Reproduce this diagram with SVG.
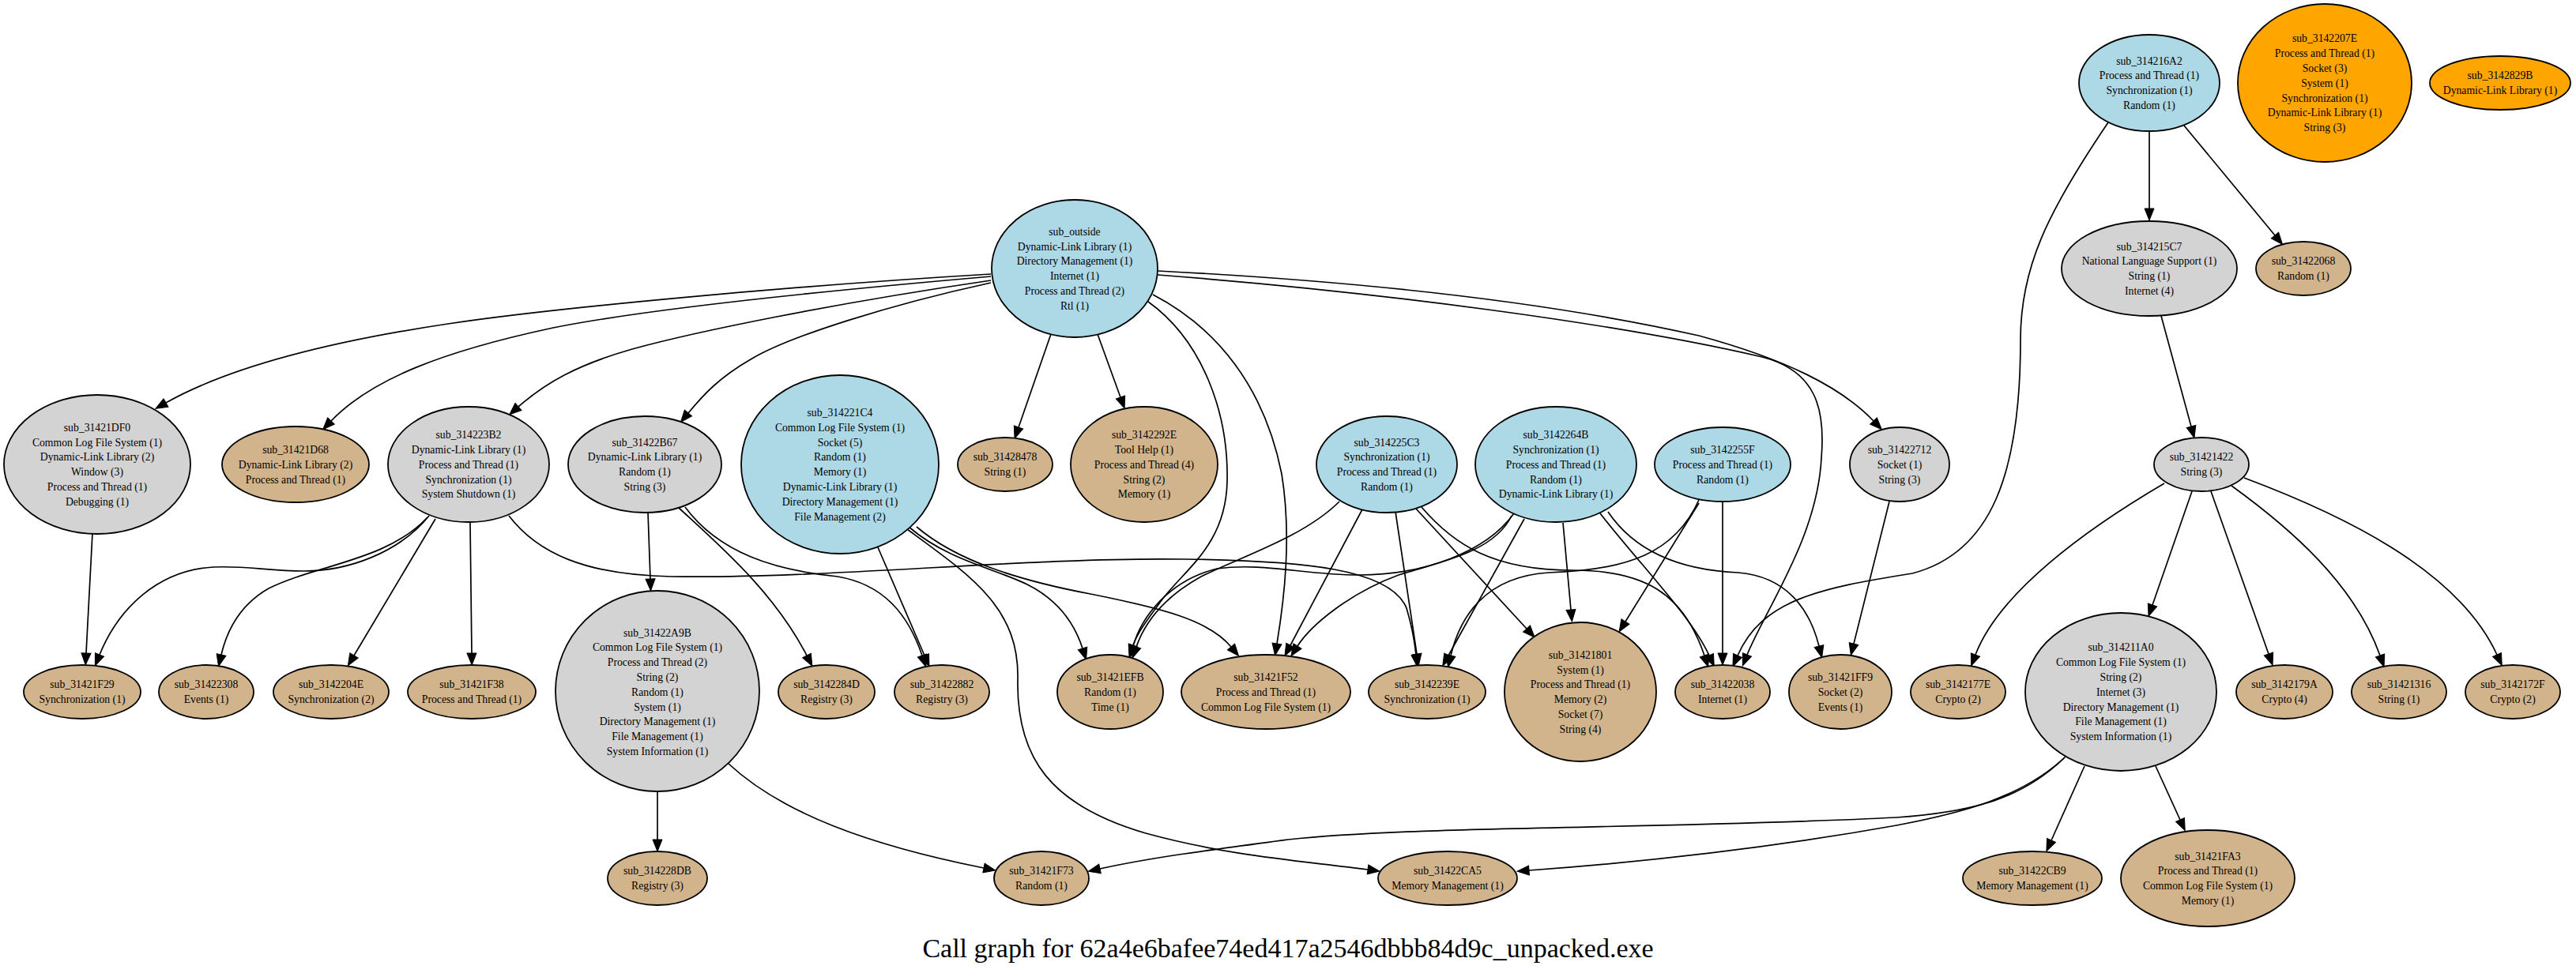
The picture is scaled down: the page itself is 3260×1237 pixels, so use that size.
<svg xmlns="http://www.w3.org/2000/svg" width="3260" height="1237" viewBox="0 0 3260 1237">
<style>
.n ellipse{stroke:#000;stroke-width:1.8}
.b{fill:#add8e6}.g{fill:#d3d3d3}.t{fill:#d2b48c}.o{fill:#ffa500}
text{font-family:"Liberation Serif","Times New Roman",serif;font-size:13.7px;text-anchor:middle;fill:#000}
#edges path{fill:none;stroke:#000;stroke-width:1.7;marker-end:url(#ah)}
.title{font-size:34px}
</style>
<defs>
<marker id="ah" markerUnits="userSpaceOnUse" markerWidth="17" markerHeight="14" viewBox="0 0 17 14" refX="0.5" refY="7" orient="auto" overflow="visible"><path d="M0.5,1 L15.5,7 L0.5,13 z" fill="#000" stroke="#000" stroke-width="1"/></marker>
</defs>
<rect width="3260" height="1237" fill="#fff"/>
<g id="edges">
<path d="M1330,423 L1289,541"/>
<path d="M1389,423 L1418,503"/>
<path d="M1254,347 C1000,362 700,390 567,410 C420,432 290,465 210,510"/>
<path d="M1254,350 C1000,372 800,395 700,415 C560,445 470,480 419,533"/>
<path d="M1254,355 C1050,385 880,420 800,442 C730,462 690,485 656,515"/>
<path d="M1254,358 C1130,385 1000,425 950,455 C910,478 890,500 871,523"/>
<path d="M1453,382 C1520,430 1555,520 1553,610 C1551,690 1500,720 1470,760 C1452,785 1440,800 1434,817"/>
<path d="M1459,373 C1540,415 1600,490 1622,600 C1635,680 1625,760 1616,815"/>
<path d="M1465,343 C1700,355 1950,380 2150,425 C2260,455 2330,490 2371,533"/>
<path d="M1465,348 C1750,370 2050,410 2230,452 C2300,470 2310,520 2305,580 C2300,680 2235,770 2211,829"/>
<path d="M2668,155 C2590,270 2557,340 2557,430 C2557,600 2520,700 2420,726 C2300,745 2230,760 2199,830"/>
<path d="M2720,166 L2720,264"/>
<path d="M2764,159 L2879,298"/>
<path d="M2735,400 L2773,540"/>
<path d="M2739,612 C2640,670 2530,750 2500,829"/>
<path d="M2774,622 L2724,766"/>
<path d="M2798,622 L2871,828"/>
<path d="M2824,615 C2900,670 2980,740 3012,830"/>
<path d="M2840,605 C2960,650 3110,720 3160,829"/>
<path d="M117,675 L109,827"/>
<path d="M543,653 C505,700 440,723 385,723 C340,723 310,716 270,718 C200,722 150,770 126,829"/>
<path d="M541,655 C490,710 400,715 340,745 C305,765 288,795 280,829"/>
<path d="M551,657 L448,830"/>
<path d="M595,662 L597,827"/>
<path d="M644,653 C680,700 740,728 850,730 C1050,733 1300,705 1500,708 C1650,710 1760,720 1780,770 C1786,790 1790,810 1792,829"/>
<path d="M820,649 L823,733"/>
<path d="M859,643 C910,690 980,750 1021,830"/>
<path d="M867,642 C910,700 980,722 1060,730 C1120,740 1150,780 1167,830"/>
<path d="M1111,693 L1170,830"/>
<path d="M1150,667 C1200,710 1260,720 1300,740 C1340,760 1360,790 1370,821"/>
<path d="M1148,670 C1230,730 1290,770 1288,860 C1286,960 1330,1020 1450,1055 C1560,1085 1650,1090 1731,1101"/>
<path d="M1160,667 C1210,710 1290,735 1380,752 C1470,770 1530,785 1558,819"/>
<path d="M832,1002 L832,1063"/>
<path d="M922,967 C990,1030 1100,1070 1245,1099"/>
<path d="M1766,648 L1793,828"/>
<path d="M1791,643 L1932,796"/>
<path d="M1695,635 C1650,680 1570,705 1520,730 C1475,755 1450,785 1438,819"/>
<path d="M1724,645 L1633,817"/>
<path d="M1799,642 C1840,690 1890,722 1990,722 C2080,722 2130,750 2157,830"/>
<path d="M1916,650 C1880,700 1800,728 1720,728 C1650,728 1600,712 1540,720 C1480,735 1445,780 1434,818"/>
<path d="M1913,653 C1890,700 1820,712 1770,728 C1710,750 1660,790 1642,818"/>
<path d="M1978,662 L1988,772"/>
<path d="M1929,657 L1833,830"/>
<path d="M2025,650 C2080,720 2140,780 2163,830"/>
<path d="M2035,648 C2070,700 2130,722 2200,725 C2260,730 2290,770 2302,818"/>
<path d="M2150,637 L2057,787"/>
<path d="M2180,635 L2180,827"/>
<path d="M2150,633 C2120,700 2060,722 1960,725 C1880,730 1848,780 1836,830"/>
<path d="M2391,635 L2346,815"/>
<path d="M2612,960 C2560,1010 2500,1028 2400,1035 C2100,1050 1800,1045 1630,1063 C1540,1075 1460,1085 1392,1100"/>
<path d="M2615,957 C2560,1010 2480,1030 2400,1045 C2250,1072 2100,1090 1935,1102"/>
<path d="M2638,970 L2596,1064"/>
<path d="M2728,970 L2759,1038"/>
</g>
<g id="sub_outside" class="n"><ellipse class="b" cx="1360" cy="340" rx="105" ry="87"/><text><tspan x="1360" y="297.7">sub_outside</tspan><tspan x="1360" y="316.5">Dynamic-Link Library (1)</tspan><tspan x="1360" y="335.3">Directory Management (1)</tspan><tspan x="1360" y="354.1">Internet (1)</tspan><tspan x="1360" y="372.9">Process and Thread (2)</tspan><tspan x="1360" y="391.7">Rtl (1)</tspan></text></g>
<g id="sub_314216A2" class="n"><ellipse class="b" cx="2720" cy="105" rx="89" ry="61"/><text><tspan x="2720" y="81.5">sub_314216A2</tspan><tspan x="2720" y="100.3">Process and Thread (1)</tspan><tspan x="2720" y="119.1">Synchronization (1)</tspan><tspan x="2720" y="137.9">Random (1)</tspan></text></g>
<g id="sub_3142207E" class="n"><ellipse class="o" cx="2942" cy="105" rx="110" ry="100"/><text><tspan x="2942" y="53.3">sub_3142207E</tspan><tspan x="2942" y="72.1">Process and Thread (1)</tspan><tspan x="2942" y="90.9">Socket (3)</tspan><tspan x="2942" y="109.7">System (1)</tspan><tspan x="2942" y="128.5">Synchronization (1)</tspan><tspan x="2942" y="147.3">Dynamic-Link Library (1)</tspan><tspan x="2942" y="166.1">String (3)</tspan></text></g>
<g id="sub_3142829B" class="n"><ellipse class="o" cx="3164" cy="105" rx="89" ry="34"/><text><tspan x="3164" y="100.3">sub_3142829B</tspan><tspan x="3164" y="119.1">Dynamic-Link Library (1)</tspan></text></g>
<g id="sub_314215C7" class="n"><ellipse class="g" cx="2720" cy="340" rx="111" ry="60"/><text><tspan x="2720" y="316.5">sub_314215C7</tspan><tspan x="2720" y="335.3">National Language Support (1)</tspan><tspan x="2720" y="354.1">String (1)</tspan><tspan x="2720" y="372.9">Internet (4)</tspan></text></g>
<g id="sub_31422068" class="n"><ellipse class="t" cx="2915" cy="340" rx="60" ry="34"/><text><tspan x="2915" y="335.3">sub_31422068</tspan><tspan x="2915" y="354.1">Random (1)</tspan></text></g>
<g id="sub_31421DF0" class="n"><ellipse class="g" cx="123" cy="588" rx="118" ry="88"/><text><tspan x="123" y="545.7">sub_31421DF0</tspan><tspan x="123" y="564.5">Common Log File System (1)</tspan><tspan x="123" y="583.3">Dynamic-Link Library (2)</tspan><tspan x="123" y="602.1">Window (3)</tspan><tspan x="123" y="620.9">Process and Thread (1)</tspan><tspan x="123" y="639.7">Debugging (1)</tspan></text></g>
<g id="sub_31421D68" class="n"><ellipse class="t" cx="374" cy="588" rx="93" ry="48"/><text><tspan x="374" y="573.9">sub_31421D68</tspan><tspan x="374" y="592.7">Dynamic-Link Library (2)</tspan><tspan x="374" y="611.5">Process and Thread (1)</tspan></text></g>
<g id="sub_314223B2" class="n"><ellipse class="g" cx="593" cy="588" rx="102" ry="73"/><text><tspan x="593" y="555.1">sub_314223B2</tspan><tspan x="593" y="573.9">Dynamic-Link Library (1)</tspan><tspan x="593" y="592.7">Process and Thread (1)</tspan><tspan x="593" y="611.5">Synchronization (1)</tspan><tspan x="593" y="630.3">System Shutdown (1)</tspan></text></g>
<g id="sub_31422B67" class="n"><ellipse class="g" cx="816" cy="588" rx="97" ry="61"/><text><tspan x="816" y="564.5">sub_31422B67</tspan><tspan x="816" y="583.3">Dynamic-Link Library (1)</tspan><tspan x="816" y="602.1">Random (1)</tspan><tspan x="816" y="620.9">String (3)</tspan></text></g>
<g id="sub_314221C4" class="n"><ellipse class="b" cx="1063" cy="588" rx="125" ry="113"/><text><tspan x="1063" y="526.9">sub_314221C4</tspan><tspan x="1063" y="545.7">Common Log File System (1)</tspan><tspan x="1063" y="564.5">Socket (5)</tspan><tspan x="1063" y="583.3">Random (1)</tspan><tspan x="1063" y="602.1">Memory (1)</tspan><tspan x="1063" y="620.9">Dynamic-Link Library (1)</tspan><tspan x="1063" y="639.7">Directory Management (1)</tspan><tspan x="1063" y="658.5">File Management (2)</tspan></text></g>
<g id="sub_31428478" class="n"><ellipse class="t" cx="1272" cy="588" rx="60" ry="34"/><text><tspan x="1272" y="583.3">sub_31428478</tspan><tspan x="1272" y="602.1">String (1)</tspan></text></g>
<g id="sub_3142292E" class="n"><ellipse class="t" cx="1448" cy="588" rx="93" ry="73"/><text><tspan x="1448" y="555.1">sub_3142292E</tspan><tspan x="1448" y="573.9">Tool Help (1)</tspan><tspan x="1448" y="592.7">Process and Thread (4)</tspan><tspan x="1448" y="611.5">String (2)</tspan><tspan x="1448" y="630.3">Memory (1)</tspan></text></g>
<g id="sub_314225C3" class="n"><ellipse class="b" cx="1755" cy="588" rx="89" ry="61"/><text><tspan x="1755" y="564.5">sub_314225C3</tspan><tspan x="1755" y="583.3">Synchronization (1)</tspan><tspan x="1755" y="602.1">Process and Thread (1)</tspan><tspan x="1755" y="620.9">Random (1)</tspan></text></g>
<g id="sub_3142264B" class="n"><ellipse class="b" cx="1969" cy="588" rx="102" ry="73"/><text><tspan x="1969" y="555.1">sub_3142264B</tspan><tspan x="1969" y="573.9">Synchronization (1)</tspan><tspan x="1969" y="592.7">Process and Thread (1)</tspan><tspan x="1969" y="611.5">Random (1)</tspan><tspan x="1969" y="630.3">Dynamic-Link Library (1)</tspan></text></g>
<g id="sub_3142255F" class="n"><ellipse class="b" cx="2180" cy="588" rx="86" ry="47"/><text><tspan x="2180" y="573.9">sub_3142255F</tspan><tspan x="2180" y="592.7">Process and Thread (1)</tspan><tspan x="2180" y="611.5">Random (1)</tspan></text></g>
<g id="sub_31422712" class="n"><ellipse class="g" cx="2404" cy="588" rx="63" ry="47"/><text><tspan x="2404" y="573.9">sub_31422712</tspan><tspan x="2404" y="592.7">Socket (1)</tspan><tspan x="2404" y="611.5">String (3)</tspan></text></g>
<g id="sub_31421422" class="n"><ellipse class="g" cx="2786" cy="588" rx="60" ry="34"/><text><tspan x="2786" y="583.3">sub_31421422</tspan><tspan x="2786" y="602.1">String (3)</tspan></text></g>
<g id="sub_31421F29" class="n"><ellipse class="t" cx="104" cy="876" rx="74" ry="34"/><text><tspan x="104" y="871.3">sub_31421F29</tspan><tspan x="104" y="890.1">Synchronization (1)</tspan></text></g>
<g id="sub_31422308" class="n"><ellipse class="t" cx="261" cy="876" rx="60" ry="34"/><text><tspan x="261" y="871.3">sub_31422308</tspan><tspan x="261" y="890.1">Events (1)</tspan></text></g>
<g id="sub_3142204E" class="n"><ellipse class="t" cx="419" cy="876" rx="73" ry="34"/><text><tspan x="419" y="871.3">sub_3142204E</tspan><tspan x="419" y="890.1">Synchronization (2)</tspan></text></g>
<g id="sub_31421F38" class="n"><ellipse class="t" cx="597" cy="876" rx="81" ry="34"/><text><tspan x="597" y="871.3">sub_31421F38</tspan><tspan x="597" y="890.1">Process and Thread (1)</tspan></text></g>
<g id="sub_31422A9B" class="n"><ellipse class="g" cx="832" cy="875" rx="129" ry="127"/><text><tspan x="832" y="805.5">sub_31422A9B</tspan><tspan x="832" y="824.3">Common Log File System (1)</tspan><tspan x="832" y="843.1">Process and Thread (2)</tspan><tspan x="832" y="861.9">String (2)</tspan><tspan x="832" y="880.7">Random (1)</tspan><tspan x="832" y="899.5">System (1)</tspan><tspan x="832" y="918.3">Directory Management (1)</tspan><tspan x="832" y="937.1">File Management (1)</tspan><tspan x="832" y="955.9">System Information (1)</tspan></text></g>
<g id="sub_3142284D" class="n"><ellipse class="t" cx="1046" cy="876" rx="61" ry="34"/><text><tspan x="1046" y="871.3">sub_3142284D</tspan><tspan x="1046" y="890.1">Registry (3)</tspan></text></g>
<g id="sub_31422882" class="n"><ellipse class="t" cx="1192" cy="876" rx="60" ry="34"/><text><tspan x="1192" y="871.3">sub_31422882</tspan><tspan x="1192" y="890.1">Registry (3)</tspan></text></g>
<g id="sub_31421EFB" class="n"><ellipse class="t" cx="1405" cy="876" rx="67" ry="47"/><text><tspan x="1405" y="861.9">sub_31421EFB</tspan><tspan x="1405" y="880.7">Random (1)</tspan><tspan x="1405" y="899.5">Time (1)</tspan></text></g>
<g id="sub_31421F52" class="n"><ellipse class="t" cx="1602" cy="876" rx="107" ry="47"/><text><tspan x="1602" y="861.9">sub_31421F52</tspan><tspan x="1602" y="880.7">Process and Thread (1)</tspan><tspan x="1602" y="899.5">Common Log File System (1)</tspan></text></g>
<g id="sub_3142239E" class="n"><ellipse class="t" cx="1806" cy="876" rx="74" ry="34"/><text><tspan x="1806" y="871.3">sub_3142239E</tspan><tspan x="1806" y="890.1">Synchronization (1)</tspan></text></g>
<g id="sub_31421801" class="n"><ellipse class="t" cx="2000" cy="876" rx="96" ry="88"/><text><tspan x="2000" y="833.7">sub_31421801</tspan><tspan x="2000" y="852.5">System (1)</tspan><tspan x="2000" y="871.3">Process and Thread (1)</tspan><tspan x="2000" y="890.1">Memory (2)</tspan><tspan x="2000" y="908.9">Socket (7)</tspan><tspan x="2000" y="927.7">String (4)</tspan></text></g>
<g id="sub_31422038" class="n"><ellipse class="t" cx="2180" cy="876" rx="60" ry="34"/><text><tspan x="2180" y="871.3">sub_31422038</tspan><tspan x="2180" y="890.1">Internet (1)</tspan></text></g>
<g id="sub_31421FF9" class="n"><ellipse class="t" cx="2329" cy="876" rx="65" ry="47"/><text><tspan x="2329" y="861.9">sub_31421FF9</tspan><tspan x="2329" y="880.7">Socket (2)</tspan><tspan x="2329" y="899.5">Events (1)</tspan></text></g>
<g id="sub_3142177E" class="n"><ellipse class="t" cx="2478" cy="876" rx="60" ry="34"/><text><tspan x="2478" y="871.3">sub_3142177E</tspan><tspan x="2478" y="890.1">Crypto (2)</tspan></text></g>
<g id="sub_314211A0" class="n"><ellipse class="g" cx="2684" cy="876" rx="121" ry="100"/><text><tspan x="2684" y="824.3">sub_314211A0</tspan><tspan x="2684" y="843.1">Common Log File System (1)</tspan><tspan x="2684" y="861.9">String (2)</tspan><tspan x="2684" y="880.7">Internet (3)</tspan><tspan x="2684" y="899.5">Directory Management (1)</tspan><tspan x="2684" y="918.3">File Management (1)</tspan><tspan x="2684" y="937.1">System Information (1)</tspan></text></g>
<g id="sub_3142179A" class="n"><ellipse class="t" cx="2891" cy="876" rx="61" ry="34"/><text><tspan x="2891" y="871.3">sub_3142179A</tspan><tspan x="2891" y="890.1">Crypto (4)</tspan></text></g>
<g id="sub_31421316" class="n"><ellipse class="t" cx="3036" cy="876" rx="60" ry="34"/><text><tspan x="3036" y="871.3">sub_31421316</tspan><tspan x="3036" y="890.1">String (1)</tspan></text></g>
<g id="sub_3142172F" class="n"><ellipse class="t" cx="3180" cy="876" rx="60" ry="34"/><text><tspan x="3180" y="871.3">sub_3142172F</tspan><tspan x="3180" y="890.1">Crypto (2)</tspan></text></g>
<g id="sub_314228DB" class="n"><ellipse class="t" cx="832" cy="1112" rx="63" ry="34"/><text><tspan x="832" y="1107.3">sub_314228DB</tspan><tspan x="832" y="1126.1">Registry (3)</tspan></text></g>
<g id="sub_31421F73" class="n"><ellipse class="t" cx="1318" cy="1112" rx="60" ry="34"/><text><tspan x="1318" y="1107.3">sub_31421F73</tspan><tspan x="1318" y="1126.1">Random (1)</tspan></text></g>
<g id="sub_31422CA5" class="n"><ellipse class="t" cx="1832" cy="1112" rx="88" ry="34"/><text><tspan x="1832" y="1107.3">sub_31422CA5</tspan><tspan x="1832" y="1126.1">Memory Management (1)</tspan></text></g>
<g id="sub_31422CB9" class="n"><ellipse class="t" cx="2572" cy="1112" rx="88" ry="34"/><text><tspan x="2572" y="1107.3">sub_31422CB9</tspan><tspan x="2572" y="1126.1">Memory Management (1)</tspan></text></g>
<g id="sub_31421FA3" class="n"><ellipse class="t" cx="2794" cy="1112" rx="110" ry="61"/><text><tspan x="2794" y="1088.5">sub_31421FA3</tspan><tspan x="2794" y="1107.3">Process and Thread (1)</tspan><tspan x="2794" y="1126.1">Common Log File System (1)</tspan><tspan x="2794" y="1144.9">Memory (1)</tspan></text></g>
<text class="title" x="1630" y="1212">Call graph for 62a4e6bafee74ed417a2546dbbb84d9c_unpacked.exe</text>
</svg>
